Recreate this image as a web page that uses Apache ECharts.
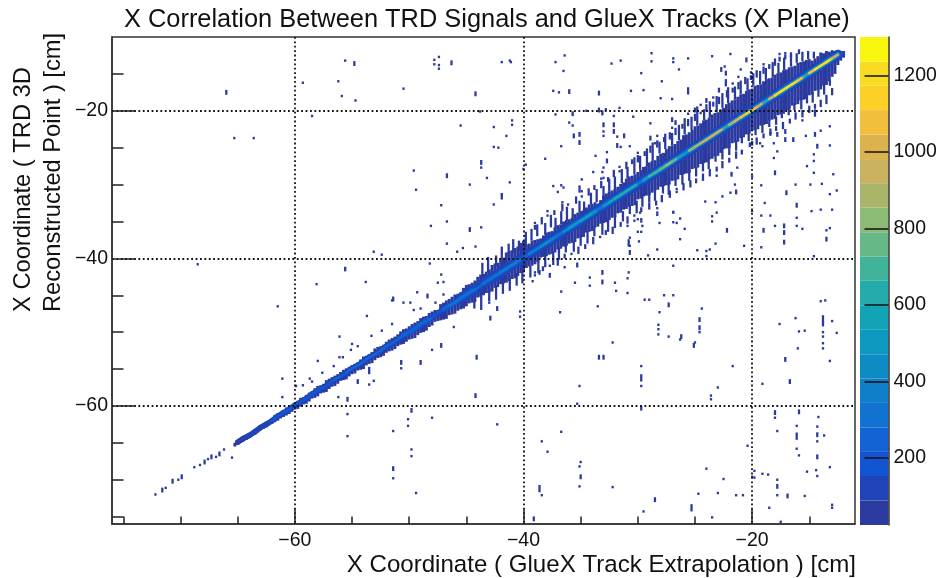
<!DOCTYPE html>
<html>
<head>
<meta charset="utf-8">
<style>html,body{margin:0;padding:0;background:#fff}#c{width:938px;height:578px}</style>
<script src="https://cdn.jsdelivr.net/npm/echarts@6/dist/echarts.min.js"></script>
</head>
<body>
<div id="c"></div>
<script>
const titleText = 'X Correlation Between TRD Signals and GlueX Tracks (X Plane)';
const xTitle = 'X Coordinate ( GlueX Track Extrapolation ) [cm]';
const yTitle = 'X Coordinate ( TRD 3D\nReconstructed Point ) [cm]';
const majorTicks = [-60, -40, -20];
const minorTicks = [-75, -70, -65, -55, -50, -45, -35, -30, -25, -15];
const paletteTicks = [200, 400, 600, 800, 1000, 1200];
const paletteLevels = [25, 89, 153, 216, 280, 344, 408, 471, 535, 599, 663, 726, 790, 854, 918, 981, 1045, 1109, 1173, 1236, 1300];
const paletteColors = ['#2b3a9e', '#1f44b8', '#1354d2', '#1263d4', '#1272cf', '#107fca', '#0d8cc4', '#0d98bf', '#12a3b6', '#24abab',
  '#41b39a', '#66b987', '#8bbb75', '#aab569', '#c9b15f', '#dcb24f', '#f2bf3d', '#fdd028', '#f9dc1f', '#f9f60e'];

// [x, y, stacked bins]
const sparseCells = [
[-72.2,-72],[-71.6,-71.4,2],[-71.3,-71.1],[-70.7,-70.2,2],[-70.2,-70],[-69.9,-69.6,2],[-68.8,-68.3],[-68.3,-68],[-67.9,-67.6,2],[-67.6,-67.2],[-67.3,-66.9,2],[-66.9,-66.9],[-66.6,-66.5,2],[-66.2,-65.9],[-65.5,-67],
[-66,-17.5,2],[-65.3,-23.7],[-63.6,-23.7],[-59.3,-16.2],[-55.6,-13.2],[-54.8,-13.6,2],[-56.2,-16],[-55.9,-18],[-54.7,-18.6],[-50.5,-17],[-58.5,-20.7],[-53.1,-39.1],[-52.4,-39.5],[-68.5,-40.8],
[-47.8,-13.1],[-47.8,-13.7],[-47.4,-12.7],[-47.4,-13.8],[-47.4,-14.3],[-46.3,-13.5,2],[-41.9,-13.4],[-41.2,-13.2],[-41.1,-13.4],[-36.4,-12.5],[-37.2,-13.4],[-36.5,-14.6],[-32.3,-13.6],[-31.5,-13.2],
[-44.2,-17.7,2],[-37.4,-17.3],[-36.9,-17.5],[-36,-17.4,2],[-33.4,-17.6,2],[-30.6,-17.3],[-43.8,-20.1],[-41,-21.3],[-41,-21.9],[-45.5,-22],[-42.6,-22.2],[-41.5,-23.4],[-42.6,-24.9],[-42.2,-25],[-43.7,-27,2],[-43.7,-27.7],[-49.6,-28.1],[-46.7,-28.8,2],[-43.2,-29.1],[-44.7,-30],[-41.2,-29.7],[-49.4,-30.7],[-41.9,-31.3],[-39.8,-27.3],[-40,-27.9],[-38.1,-26.5],
[-37.2,-20.5],[-35.7,-20.4,2],[-36,-21.6],[-35.7,-22],[-35.6,-23.4,2],[-35.1,-23.2,2],[-35.1,-24.3,2],[-36.7,-24.8],[-34.5,-20],[-33.4,-19.9,2],[-33.1,-20.3,2],[-32.8,-19.8],[-31.6,-19.6],[-32.1,-20.7],[-32.1,-21.9,2],[-32.1,-22.8,2],[-33,-21.9,2],[-33,-22.8],[-33,-23.4],[-31.8,-23.5],[-31.2,-23.4,2],[-31.8,-24.7,2],[-31.5,-24.9],[-30.7,-24.8],[-30.4,-20.8],[-33.7,-26.1],[-32.7,-25.6],[-32.7,-26.8,2],[-33.9,-28.3],[-33.1,-28.3],[-33,-27.7],[-33,-29.1],[-34.9,-29.3],[-37.4,-30.2],[-36.7,-30.1],[-36.5,-30.4],[-37,-31],[-35.1,-30.6,3],
[-28.8,-12.2],[-28.8,-13.3],[-26.9,-12.9],[-26.9,-13.4],[-25.6,-12.9],[-23.5,-12.6],[-21.9,-12.3],[-29.7,-14.9],[-26.4,-14.4],[-22.4,-14],[-22.7,-14.4,2],[-22.3,-14.9,2],[-22.3,-16.2,3],[-21,-14.4],[-20.5,-13.1,2],[-27.9,-16],[-29.5,-17.2],[-28,-18.3],[-27,-18.4],[-25.6,-17.3,3],[-28.9,-21.7],[-27,-21.2,2],[-27,-22.3],[-28.9,-23.7,2],[-28.5,-24.4],
[-20,-24.4,2],[-19.3,-24.4],[-19.1,-24.8],[-18.4,-23],[-17.8,-23.2,2],[-18.1,-24.4],[-17.1,-22.8,2],[-17.1,-23.9,2],[-16.4,-23.9,2],[-15.3,-23.4],[-14.5,-23.2,2],[-14,-22.7],[-13.2,-22.1],[-14.3,-24.8,2],[-13.2,-24.7],[-18.1,-26.4],[-17.8,-25.5],[-14.6,-25.9],[-14.6,-26.8],[-15.2,-27.5],[-14.6,-28.4],[-12.9,-28.6],[-18,-28.4,2],[-20,-28.9],[-21.8,-28.6,2],[-21.3,-27.7],[-16.2,-30],[-14.9,-30],[-13.9,-29.9],[-17,-31.1,2],[-13.2,-31.3],[-12.6,-30.8],[-19.2,-30.1],[-21.4,-31,2],[-21.9,-31.1],[-21.5,-30],[-22.6,-31.6],[-23.2,-32.4],[-24.1,-32.3],[-18.9,-32.5],[-16.1,-32.8,2],[-14.8,-33.6],[-14,-33.4],[-13,-33.4],[-20,-33.6],[-18.4,-34.2],[-19.2,-34.2],[-16.1,-34.5],[-23.1,-33.8],[-23.5,-34.3],[-23.5,-35],[-18,-35.6],[-17.2,-35.6,2],[-17.2,-36.5,2],[-22.2,-36.2,2],[-19,-36.2,2],[-15.6,-36],[-16.1,-35.6],[-13.2,-35.9],[-13.5,-36.2],[-13.5,-37.4,2],[-17.2,-37.8,2],[-23.2,-38],[-23.7,-38.8],[-30.7,-37.2],[-30.7,-38.3],[-30.7,-39.2,2],[-29.9,-37.7],[-26.3,-37.4],[-24.8,-38.9],[-24,-39],[-24,-39.7],[-28.1,-35.2],[-28.3,-33.8],[-26.9,-33.8],[-26.3,-34.6],[-26.9,-35.1],[-25.9,-36],[-29.8,-33.8],[-29.7,-35],[-29.6,-35.6],[-30.9,-35.6],[-20.7,-38.3],[-19.2,-38.5],[-14.6,-39.7],
[-29.4,-45.6],[-29,-45.6],[-27.3,-46.3,2],[-33.5,-46.5],[-36.8,-47.3],[-24.4,-46.8],[-28.1,-47.3],[-24.6,-48.3,2],[-24.6,-49.4,2],[-24.6,-50],[-28.2,-49],[-28.2,-49.6],[-28.2,-50.3],[-27.3,-50.6],[-26.2,-50.6,2],[-26.3,-51],[-25,-51.4],[-25.1,-51.8,2],[-32.2,-51.4],[-33.4,-53.4,2],[-33,-53.4,2],[-29.7,-54.6],[-29.7,-56.2,3],[-29.7,-57.3],[-35.1,-57.3],[-21.7,-54.6],[-23,-57.5],[-23.6,-58.6],[-23.6,-59.1],[-35.3,-59.7],[-29.7,-60.3,2],[-36.7,-63.5],[-35,-67.6],[-35.1,-68.2],[-35,-69.6,2],[-35.1,-70.9],[-32.2,-71],[-28.5,-72.7,2],[-29.5,-74.3],[-25.3,-73.8,3],[-23.5,-75.1],[-24,-68.5],[-22.5,-69.9],[-24.7,-71.9],[-23,-71.8],[-21.4,-72.1],[-20.8,-72.1],[-20.4,-65.4],
[-17.6,-48.9],[-16.2,-48.1],[-15.9,-49.9],[-15.4,-49.8],[-16,-52.2],[-17.1,-53.7,2],[-16.7,-56.7,2],[-19.1,-57],[-13.8,-48.2,3],[-13.8,-48.9,2],[-13.8,-50],[-13.8,-50.6],[-13.8,-51.5],[-13.8,-52.2],[-13,-48.5],[-12.6,-50.1],[-13.2,-53.9],[-14,-45.8],[-13.6,-45.7],[-18,-60.9,2],[-18,-61.6],[-15.9,-60.8,2],[-14.2,-61.5],[-17.8,-63.4],[-16.1,-62.7],[-16.1,-64.1,3],[-14.3,-62.8],[-14.3,-63.9,2],[-14.3,-64.8],[-13.7,-64],[-16.1,-65.8],[-15.9,-66.7],[-14.3,-66.9,2],[-19.8,-68.8],[-20,-69.6],[-19.8,-69.7],[-19.1,-69.2],[-18.6,-69.3],[-17.8,-70],[-17.8,-70.9,2],[-17.8,-72.1],[-16.9,-72.2,2],[-15.4,-72.2],[-15.2,-68.9],[-14.4,-68.7],[-14.3,-69.5],[-13.2,-68.3],[-13,-73.4],[-13,-73.8],[-18.5,-73.8],[-17.5,-75.7],
[-55.4,-59.1,2],[-55.4,-61.1],[-55.4,-64.1],[-49.8,-60.6,2],[-50.1,-61.8],[-50.1,-62.7],[-48,-61.6],[-51.4,-63.4],[-49.8,-65.9],[-49.8,-66.8],[-51.4,-68.5,2],[-51.4,-69.8],[-49.4,-71.8],[-42.3,-62.5],[-44.2,-58.6,2],[-44.1,-53.4,2],[-42.9,-48.1,2],[-42.3,-46.8,2],[-43,-46],[-40.3,-47.2],[-40.3,-47.9],[-47.2,-51.8,2],[-48,-52.4],[-46.1,-49.3],[-49,-54.1,2],[-50.7,-54.1,2],[-50.7,-54.9],[-53.5,-55.2,3],[-54.5,-56.7,2],[-53.5,-57.1],[-53.1,-56.6],[-55.1,-52.4],[-55,-51.6],[-54.5,-51.9],[-53.7,-47.8],[-51.5,-45.7],[-38.4,-64.8],[-37.9,-66.2],[-38.6,-71.2,3],[-38.4,-72.1],[-39.1,-75.3,2],
[-61.5,-46.5],[-58.1,-43.5],[-55.6,-41.3],[-55.6,-41.6],[-53.8,-43.2],[-48.2,-40.7],[-47.2,-42.2],[-51.4,-45.5,2],[-56.1,-50.6],[-58,-53.9],[-61.1,-56.3],[-61.1,-58.8],[-56.2,-58.8],[-49.3,-44.6],[-48.4,-45.1,2],[-50.5,-46],[-49.9,-46],[-49.6,-47],[-49,-46.8],[-47.5,-43.3],[-47,-43.2],[-47,-44.9],[-47.7,-46],[-51.5,-48.9],[-52.4,-49.8],[-53.3,-50.5],[-56.1,-53.4],[-55.8,-53.4],[-56.6,-54.6],[-57.6,-55.5],[-58.7,-56.3],[-58.5,-56.7],[-59.9,-57.3],[-59.3,-57.2],
[-41.9,-31.7,2],[-47.2,-32.8],[-42.6,-32.7],[-46.7,-35],[-44.7,-36.1,2],[-48.1,-35.6],[-43.7,-35.8],[-46.7,-38],[-44.2,-38.4],[-45.3,-38.6],[-45.8,-39.1],[-35.3,-40.9,2],[-36.4,-41.2],[-37.7,-42.3,2],[-38.6,-41.9,2],[-39.2,-43.1],[-34.2,-42.6],[-34.2,-43.7],[-33.1,-41.9,2],[-33.1,-43.2,2],[-35.5,-43.3],[-36.7,-44.5],[-32,-43.3],[-31.9,-44.4],[-30.9,-44.7],[-30.9,-42.7],[-30.8,-41.9],[-30.8,-37.9,3],[-27.7,-45],[-26.9,-45],[-26.9,-41],[-28.3,-38.8],[-29.1,-39.6],[-30,-36.4],[-29.7,-36.4],[-30,-34.7],[-29.7,-34.7],[-28.3,-33.2],[-28.3,-34.1],[-26.9,-33.7],[-26.6,-35.2]
];

// [x, y, stacked bins]: the loose cells along the edges of the dense band
const fringeCells = [
[-39,-35.8,2],[-39,-35.2],[-38.4,-34.9,3],[-37.9,-34.2],[-37.9,-33.6],[-37.3,-33.8,2],[-36.6,-33.1,3],[-36.6,-32.4],[-36.1,-32.7],[-35.4,-32.1,3],[-34.9,-31.6],[-34.9,-30.9],[-34.3,-31,3],[-33.8,-30.4,2],[-33.2,-30,3],[-33.2,-29.2],[-32.6,-29.3,2],[-32.1,-28.5,3],[-31.6,-28.2],[-31.6,-27.6],[-31,-27.4,3],[-30.5,-26.9,2],[-30,-26.5,3],[-30,-25.7],[-29.4,-25.8,2],[-28.9,-25.2,3],[-28.3,-24.5,3],[-28.3,-23.4],[-27.7,-23.9,2],[-27.2,-23.4,3],[-26.7,-22.8,3],[-26.7,-21.6,2],[-26.1,-22.1,2],[-25.6,-21.6,3],[-25.6,-20.4],[-25,-20.9,3],[-25,-19.9,2],[-24.5,-20.3],[-24.5,-19.2],[-24,-19.6,3],[-24,-18.6,2],[-23.4,-19.1,2],[-23.4,-18.2],[-22.9,-18.6,3],[-22.9,-17.2,2],[-22.2,-17.7,3],[-21.7,-17.2,2],[-21.7,-16.3],[-21.2,-16.6,3],[-21.2,-15.4],[-20.6,-15.9,3],[-20.1,-15.5,2],[-20.1,-14.8],[-19.6,-15,3],[-19,-14.5,3],[-19,-13.7],[-18.5,-14,2],[-18,-13.4,3],[-17.6,-13,2],[-17.6,-12.3],[-17.1,-12.7,2],[-17.1,-12.2],[-16.6,-12.4,2],[-15.9,-12,2],
[-39,-41.9],[-39,-42.3],[-38.3,-41.4,2],[-37.7,-41],[-37,-40.5,3],[-36.4,-39.7,2],[-35.8,-39.4],[-35.2,-38.9,3],[-34.6,-38.4,2],[-33.9,-37.6,3],[-33.3,-37.1],[-32.8,-36.5,2],[-32.2,-36.2,3],[-31.5,-35.4,2],[-30.9,-34.8,3],[-30.3,-34.2],[-30.3,-34.9],[-29.7,-33.4,2],[-29,-32.9,3],[-28.4,-32.5,2],[-27.9,-31.9,3],[-27.2,-31.3,3],[-26.6,-31],[-26.6,-30.6],[-26,-30.3,3],[-25.4,-29.9,3],[-24.9,-29.5,2],[-24.3,-29,3],[-23.7,-28.4,3],[-23.1,-27.9,2],[-23.1,-28.8],[-22.6,-27.3,3],[-22,-26.7,2],[-21.4,-26,3],[-20.9,-25.6,2],[-20.2,-24.6,2],[-19.6,-24.1,3],[-19,-23.4,2],[-18.4,-22.9,3],[-17.9,-22.4,2],[-17.3,-22,3],[-16.7,-21.4,2],[-16.2,-20.7,3],[-15.6,-20.4,3],[-15.6,-21.3],[-15,-19.8,3],[-14.5,-19.4,2],[-14.5,-20.3,3],[-14,-19,3],[-13.5,-18.6,3],[-13.5,-18],[-13,-17.4,3]
];

// [x, lowest y, highest y]: thin vertical streaks reaching out of the dense band
const streakColumns = [
[-43.6,-42.4,-40.6],[-43.1,-41.9,-39.8],[-42.4,-41,-39.6],[-41.9,-40.2,-38.4],[-41.3,-39.6,-38],[-40.9,-39.2,-37.4],[-40.4,-39,-37.6],[-39.8,-38.2,-36.4],[-39.3,-37.6,-36],[-38.8,-37,-35.4],[-38.1,-36.8,-35.2],[-37.6,-35.8,-34.1],[-37.2,-36,-34.5],[-36.7,-35.4,-33.6],[-36.2,-34.8,-33],[-35.7,-34.6,-33.2],[-35.1,-33.8,-32.2],[-34.7,-33.6,-32.3],[-34.1,-32.7,-31.1],[-33.6,-32.4,-30.6],[-33,-31.6,-30.2],[-32.5,-30.9,-29.2],[-32,-30.8,-28.9],[-31.4,-29.8,-27.9],[-30.9,-29.2,-27.6],[-30.3,-28.6,-26.3],[-29.8,-28,-26.1],[-29.2,-27.5,-25.1],[-28.7,-26.8,-24.3],[-28.1,-25.8,-24.2],[-27.6,-25.2,-23.1],[-27,-24.7,-23],[-26.4,-24,-21.9],[-25.9,-23.2,-21],[-25.3,-22.6,-20.8],[-24.8,-22,-19.4],[-24.2,-21.3,-19.8],[-23.7,-20.9,-18.7],[-23.1,-20.2,-18],[-22.6,-19.6,-17.6],[-22.1,-19,-16.8],[-21.5,-18.5,-16.7],[-21,-17.8,-15.9],[-20.4,-17.3,-15.6],[-19.9,-16.6,-14.9],[-19.3,-16.4,-14.6],[-18.8,-15.7,-14.2],[-18.2,-15.5,-13.4],[-17.7,-14.9,-13.5],[-17.2,-14.5,-12.8],[-16.6,-14,-12.4],[-16.1,-13.5,-12.2],[-15.6,-13.3,-12],[-15.1,-13,-11.9],[-14.6,-12.9,-12],
[-44.3,-46.8,-45],[-43.7,-47,-44.8],[-43,-45.8,-44],[-42.4,-45.6,-43.6],[-41.8,-44.8,-43],[-41.2,-44.4,-42.6],[-40.6,-43.7,-42],[-40.1,-43.4,-41.4],[-39.4,-42.6,-41],[-38.7,-42,-40.2],[-38.1,-41.2,-39.5],[-37.4,-40.9,-39],[-36.9,-40.2,-38.5],[-36.3,-39.2,-38],[-35.6,-39.1,-37.6],[-35,-38.3,-36.9],[-34.4,-38,-36.3],[-33.8,-37,-35.6],[-33.1,-36.8,-35],[-32.6,-36.4,-34.6],[-32,-35.9,-34.2],[-31.3,-35,-33.6],[-30.7,-34,-32.8],[-30.1,-33.9,-32.2],[-29.6,-33,-31.4],[-29,-32.4,-31],[-28.5,-32.2,-30.6],[-27.8,-31.2,-30],[-27.3,-31.4,-29.8],[-26.7,-30.2,-29],[-26.1,-30,-28.4],[-25.5,-29.5,-28],[-24.9,-28.9,-27.6],[-24.3,-28.2,-26.9],[-23.8,-27.9,-26.4],[-23.2,-26.9,-26],[-22.6,-26.6,-25],[-22,-26,-24.8],[-21.4,-25.4,-24],[-20.9,-24.4,-23.4],[-20.3,-24.1,-23],[-19.7,-23.3,-22.4],[-19.1,-23,-21.8],[-18.5,-22.2,-21.2],[-17.9,-21.9,-20.8],[-17.4,-21,-20.2],[-16.8,-20.6,-19.6],[-16.3,-19.9,-19],[-15.7,-19.8,-18.4],[-15.2,-19,-17.8],[-14.7,-18.9,-17.5],[-14.2,-18.1,-17],[-13.7,-17.8,-16.5],[-13.2,-16.6,-15.8]
];

// [x, lowest y, highest y] of the dense run in each column
const bandColumns = [
[-65.25,-65.5,-65],[-65,-65.3,-64.7],[-64.75,-65,-64.5],[-64.5,-64.8,-64.3],[-64.25,-64.6,-64],[-64,-64.3,-63.7],[-63.75,-64.1,-63.5],[-63.5,-63.9,-63.2],[-63.25,-63.6,-63],[-63,-63.3,-62.7],[-62.75,-63.1,-62.3],[-62.5,-62.9,-62.1],[-62.25,-62.6,-61.9],[-62,-62.4,-61.7],[-61.75,-62.2,-61.2],[-61.5,-62,-61],[-61.25,-61.7,-60.9],[-61,-61.5,-60.6],[-60.75,-61.3,-60.2],[-60.5,-61.1,-60],[-60.25,-60.8,-59.8],[-60,-60.5,-59.6],[-59.75,-60.4,-59.3],[-59.5,-60.1,-58.9],[-59.25,-59.8,-58.8],[-59,-59.7,-58.5],[-58.75,-59.4,-58.2],[-58.5,-59,-58],[-58.25,-58.9,-57.6],[-58,-58.7,-57.3],[-57.75,-58.3,-57.2],[-57.5,-58.2,-57],[-57.25,-58.1,-56.5],[-57,-57.7,-56.3],[-56.75,-57.4,-56.1],[-56.5,-57.3,-55.9],[-56.25,-57,-55.7],[-56,-56.6,-55.4],[-55.75,-56.5,-55.1],[-55.5,-56.4,-54.9],[-55.25,-56,-54.7],[-55,-55.7,-54.5],[-54.75,-55.6,-54.3],[-54.5,-55.2,-54.1],[-54.25,-55.1,-53.7],[-54,-55,-53.3],[-53.75,-54.5,-53.2],[-53.5,-54.3,-53],[-53.25,-54.2,-52.7],[-53,-53.8,-52.2],[-52.75,-53.5,-52],[-52.5,-53.4,-51.9],[-52.25,-53.2,-51.7],[-52,-52.8,-51.3],[-51.75,-52.6,-51],[-51.5,-52.5,-50.8],[-51.25,-52.3,-50.6],[-51,-51.9,-50.3],[-50.75,-51.7,-49.9],[-50.5,-51.6,-49.6],[-50.25,-51.3,-49.5],[-50,-51,-49.2],[-49.75,-50.9,-48.9],[-49.5,-50.8,-48.7],[-49.25,-50.4,-48.5],
[-49,-50.1,-48.1],[-48.75,-50,-47.9],[-48.5,-49.8,-47.8],[-48.25,-49.3,-47.4],[-48,-49.1,-47.2],[-47.75,-48.6,-47],[-47.5,-48.5,-47.1],[-47.25,-48.4,-46.2],[-47,-48.3,-46],[-46.75,-48.2,-45.7],[-46.5,-47.7,-45.5],[-46.25,-47.6,-45.2],[-46,-47.5,-44.9],[-45.75,-47.1,-44.8],[-45.5,-46.9,-44.6],[-45.25,-46.8,-44],[-45,-46.5,-43.6],[-44.75,-46.1,-43.5],[-44.5,-46,-43.3],[-44.25,-45.9,-43],[-44,-45.3,-42.5],[-43.75,-45.2,-42.2],[-43.5,-45,-42.1],[-43.25,-44.7,-41.8],[-43,-44.6,-41.5],[-42.75,-44.5,-40.9],[-42.5,-44,-40.7],[-42.25,-43.9,-40.6],[-42,-43.5,-40.2],[-41.75,-43.4,-39.9],[-41.5,-43.3,-39.2],[-41.25,-43.1,-39],[-41,-42.8,-38.9],[-40.75,-42.7,-38.6],[-40.5,-42.4,-38.4],[-40.25,-42,-37.9],[-40,-41.9,-37.6],[-39.75,-41.3,-38.1],[-39.5,-41.1,-38],[-39.25,-41,-37.6],[-39,-40.8,-37.5],[-38.75,-40.5,-37.4],[-38.5,-39.9,-37.3],[-38.25,-39.8,-36.9],[-38,-39.7,-36.5],[-37.75,-39.5,-36.4],[-37.5,-39.4,-36.3],[-37.25,-39.2,-35.8],[-37,-38.8,-35.5],[-36.75,-38.7,-35.4],[-36.5,-38.4,-35],[-36.25,-38.3,-34.8],[-36,-38,-34.7],[-35.75,-37.9,-34.5],[-35.5,-37.8,-34],[-35.25,-37.3,-33.8],[-35,-37.2,-33.6],[-34.75,-37.1,-33.5],[-34.5,-36.5,-33.1],[-34.25,-36.4,-32.7],[-34,-36.3,-32.6],[-33.75,-35.8,-32.4],[-33.5,-35.7,-32.6],[-33.25,-35.3,-32.1],[-33,-35.2,-31.5],[-32.75,-35.1,-31.2],[-32.5,-34.8,-30.9],[-32.25,-34.5,-30.8],[-32,-34.4,-30.6],[-31.75,-33.9,-30.3],[-31.5,-33.8,-29.9],[-31.25,-33.4,-29.7],[-31,-33.3,-29.2],[-30.75,-33,-28.9],[-30.5,-32.9,-28.8],[-30.25,-32.8,-28.6],[-30,-32,-28.3],[-29.75,-31.9,-28],[-29.5,-31.6,-27.6],[-29.25,-31.5,-27.5],[-29,-31.4,-27],[-28.75,-31.1,-26.8],[-28.5,-30.8,-26.7],[-28.25,-30.7,-26.1],[-28,-30.3,-25.8],[-27.75,-30.2,-25.7],[-27.5,-30.1,-25.2],[-27.25,-30,-24.8],[-27,-29.5,-24.7],[-26.75,-29.4,-24.5],[-26.5,-29.3,-24.1],[-26.25,-28.7,-23.9],[-26,-28.6,-23.3],[-25.75,-28.5,-23.2],[-25.5,-28.4,-22.9],[-25.25,-27.9,-22.6],[-25,-27.8,-22.1],[-24.75,-27.7,-22],[-24.5,-27.2,-21.7],[-24.25,-27.1,-21.3],[-24,-27,-21.2],[-23.75,-26.6,-20.9],[-23.5,-26.5,-20.5],[-23.25,-26.2,-20.3],[-23,-26.1,-20.2],[-22.75,-25.7,-19.8],[-22.5,-25.2,-19.6],[-22.25,-25.1,-19.1],[-22,-25,-18.9],[-21.75,-24.4,-18.6],[-21.5,-24.3,-18.5],[-21.25,-24.2,-18.1],[-21,-23.7,-17.8],[-20.75,-23.6,-17.7],[-20.5,-23.2,-17.3],[-20.25,-23.1,-17.1],[-20,-22.7,-17],[-19.75,-22.6,-16.6],[-19.5,-22.5,-16.5],[-19.25,-22,-16.4],[-19,-21.9,-16],[-18.75,-21.8,-15.7],[-18.5,-21.3,-15.6],[-18.25,-21.2,-15.5],[-18,-21.1,-15.1],[-17.75,-20.6,-14.9],[-17.5,-20.5,-14.8],[-17.25,-20.4,-14.5],[-17,-19.9,-14.4],[-16.75,-19.8,-14.1],[-16.5,-19.3,-14],[-16.25,-19.2,-13.9],[-16,-19.1,-13.5],[-15.75,-18.6,-13.4],[-15.5,-18.5,-13.3],[-15.25,-18.4,-13.1],[-15,-17.9,-13],[-14.75,-17.8,-13.2],[-14.5,-17.3,-12.9],[-14.25,-17.2,-12.6],[-14,-17.1,-12.1],[-13.75,-16.6,-12.2],[-13.5,-16.5,-11.9],[-13.25,-16,-12],[-13,-15.4,-11.8],[-12.75,-15,-11.9],[-12.5,-13.8,-11.8],[-12.25,-13.2,-11.9],[-12,-12.8,-11.9]
];

// [x, y, ridge count, shoulder count, wide band count]
const ridgePoints = [
[-65,-64.9,110,70,0],[-64.5,-64.4,120,80,0],[-64,-64,130,90,0],[-63.5,-63.5,130,90,0],[-63,-62.9,140,95,0],[-62.5,-62.5,150,100,0],[-62,-62,160,100,0],[-61.5,-61.4,170,110,0],[-61,-60.9,170,110,0],[-60.5,-60.5,180,115,0],[-60,-59.9,180,120,0],[-59.5,-59.5,190,120,0],[-59,-59,200,125,0],[-58.5,-58.4,190,120,0],[-58,-57.9,200,125,0],[-57.5,-57.5,210,130,0],[-57,-57,210,130,0],[-56.5,-56.4,220,135,0],[-56,-56,210,130,0],[-55.5,-55.5,220,135,0],[-55,-54.9,225,140,0],[-54.5,-54.5,230,140,0],[-54,-54,225,140,0],[-53.5,-53.4,235,145,0],[-53,-53,240,145,0],[-52.5,-52.5,230,140,0],[-52,-51.9,240,145,0],[-51.5,-51.5,250,150,0],[-51,-51,245,150,0],[-50.5,-50.4,255,155,0],[-50,-50,260,155,0],[-49.5,-49.5,265,160,0],[-49,-48.9,270,160,0],[-48.5,-48.5,270,165,0],[-48,-48,210,140,0],[-47.5,-47.4,180,120,0],[-47,-46.9,260,160,0],[-46.5,-46.4,280,165,0],[-46,-46,290,170,0],[-45.5,-45.4,300,170,95],[-45,-44.9,310,175,95],[-44.5,-44.4,300,170,95],[-44,-44,240,150,95],[-43.5,-43.4,310,175,100],[-43,-42.9,330,180,100],[-42.5,-42.4,340,185,100],[-42,-41.9,350,190,100],[-41.5,-41.4,360,195,100],[-41,-40.9,370,195,100],[-40.5,-40.4,300,170,100],[-40,-39.9,220,140,100],[-39.5,-39.4,350,190,100],[-39,-38.9,400,205,100],[-38.5,-38.4,430,210,100],[-38,-37.9,440,215,100],[-37.5,-37.4,350,190,100],[-37,-36.9,300,170,100],[-36.5,-36.4,450,215,100],[-36,-35.9,490,225,105],[-35.5,-35.4,520,235,105],[-35,-34.9,540,240,105],[-34.5,-34.4,550,245,105],[-34,-33.9,520,235,105],[-33.5,-33.4,340,185,105],[-33,-32.9,480,225,105],[-32.5,-32.4,560,245,105],[-32,-31.9,600,255,105],[-31.5,-31.4,630,265,105],[-31,-30.9,650,270,105],[-30.5,-30.4,620,260,105],[-30,-29.9,400,205,105],[-29.5,-29.4,560,245,105],[-29,-28.9,680,275,110],[-28.5,-28.4,720,285,110],[-28,-27.9,760,290,110],[-27.5,-27.4,800,300,110],[-27,-26.9,780,295,110],[-26.5,-26.4,560,245,110],[-26,-25.9,480,225,110],[-25.5,-25.4,800,300,110],[-25,-24.9,880,310,110],[-24.5,-24.4,930,320,110],[-24,-23.9,960,325,110],[-23.5,-23.4,980,330,110],[-23,-22.9,920,320,110],[-22.5,-22.4,600,255,110],[-22,-21.9,900,315,110],[-21.5,-21.4,1040,340,110],[-21,-20.9,1080,345,110],[-20.5,-20.4,1110,350,110],[-20,-19.9,1060,340,110],[-19.5,-19.4,960,325,110],[-19,-18.9,620,260,110],[-18.5,-18.4,1020,335,110],[-18,-17.9,1140,355,110],[-17.5,-17.4,1180,360,110],[-17,-16.9,1190,360,110],[-16.5,-16.4,1200,360,110],[-16,-15.9,1100,350,110],[-15.5,-15.4,640,265,110],[-15,-14.9,1100,350,110],[-14.5,-14.4,1200,360,110],[-14,-13.9,1220,365,110],[-13.5,-13.4,1180,360,105],[-13,-12.9,980,330,100],[-12.5,-12.4,500,230,90]
];

const sparseCount = 30, bandCount = 40;
const binW = 0.2, binH = 0.33, colW = 0.26, streakW = 0.2;

function colorFor(c) {
  for (let i = 0; i < paletteColors.length; i++) if (c < paletteLevels[i + 1]) return paletteColors[i];
  return paletteColors[paletteColors.length - 1];
}
function cellItem(params, api) {
  const x = api.value(0), y = api.value(1), n = api.value(2) || 1;
  const a = api.coord([x - binW / 2, y + binH * n / 2]);
  const b = api.coord([x + binW / 2, y - binH * n / 2]);
  return { type: 'rect', shape: { x: a[0], y: a[1], width: b[0] - a[0], height: b[1] - a[1] }, style: { fill: colorFor(sparseCount) } };
}
function columnItem(w) {
  return function (params, api) {
    const x = api.value(0), lo = api.value(1), hi = api.value(2);
    const a = api.coord([x - w / 2, hi]);
    const b = api.coord([x + w / 2, lo]);
    return { type: 'rect', shape: { x: a[0], y: a[1], width: b[0] - a[0], height: b[1] - a[1] }, style: { fill: colorFor(bandCount) } };
  };
}
function ridgeItem(field, width) {
  return function (params, api) {
    const p = ridgePoints[params.dataIndex], q = ridgePoints[params.dataIndex + 1];
    if (!q || !p[field]) return null;
    const a = api.coord([p[0], p[1]]), b = api.coord([q[0], q[1]]);
    return { type: 'line', shape: { x1: a[0], y1: a[1], x2: b[0], y2: b[1] }, style: { stroke: colorFor(p[field]), lineWidth: width, lineCap: 'round' } };
  };
}
const font = 'Liberation Sans';
const minus = v => String(v).replace('-', '\u2212');
const paletteRows = paletteColors.map((c, i) => [0, paletteLevels[i], paletteLevels[i + 1]]);
const dotted = { color: '#111', type: [1.8, 2.6], width: 1.8 };

const chart = echarts.init(document.getElementById('c'), null, { renderer: 'canvas' });
chart.setOption({
  animation: false,
  backgroundColor: '#fff',
  title: { text: titleText, left: 119, top: 2, textStyle: { fontFamily: font, fontWeight: 'normal', fontSize: 25.4, color: '#111' } },
  graphic: [{ type: 'text', x: 38, y: 312, rotation: Math.PI / 2,
    style: { text: yTitle, fontFamily: font, fontSize: 23.7, fill: '#111', align: 'left', verticalAlign: 'middle', lineHeight: 30 } }],
  grid: [
    { left: 112, right: 83, top: 37, bottom: 54, show: true, borderColor: '#333', borderWidth: 1.5, backgroundColor: '#fff', outerBoundsMode: 'none' },
    { left: 860, width: 28.5, top: 37, bottom: 53, outerBoundsMode: 'none' }
  ],
  xAxis: [
    { type: 'value', gridIndex: 0, position: 'bottom', min: -76, max: -11, z: 4,
      axisLine: { show: true, lineStyle: { color: '#333', width: 1.5 } },
      axisTick: { show: true, inside: true, length: 15, customValues: majorTicks, lineStyle: { color: '#222', width: 1.5 } },
      axisLabel: { customValues: majorTicks, formatter: minus, margin: 7, fontFamily: font, fontSize: 19.5, color: '#111' },
      splitLine: { show: true, lineStyle: dotted },
      name: xTitle, nameLocation: 'end', nameGap: 1,
      nameTextStyle: { fontFamily: font, fontSize: 24.1, color: '#111', align: 'right', verticalAlign: 'top', padding: [29, 0, 0, 0] } },
    { type: 'value', gridIndex: 0, position: 'bottom', min: -76, max: -11, z: 4,
      axisLine: { show: false }, axisLabel: { show: false }, splitLine: { show: false },
      axisTick: { show: true, inside: true, length: 7.5, customValues: minorTicks, lineStyle: { color: '#222', width: 1.5 } } },
    { type: 'value', gridIndex: 1, min: 0, max: 1, show: false }
  ],
  yAxis: [
    { type: 'value', gridIndex: 0, position: 'left', min: -76, max: -10, z: 4,
      axisLine: { show: true, lineStyle: { color: '#333', width: 1.5 } },
      axisTick: { show: true, inside: true, length: 24, customValues: majorTicks, lineStyle: { color: '#222', width: 1.5 } },
      axisLabel: { customValues: majorTicks, formatter: minus, margin: 4, fontFamily: font, fontSize: 19.5, color: '#111' },
      splitLine: { show: true, lineStyle: dotted } },
    { type: 'value', gridIndex: 0, position: 'left', min: -76, max: -10, z: 4,
      axisLine: { show: false }, axisLabel: { show: false }, splitLine: { show: false },
      axisTick: { show: true, inside: true, length: 11.5, customValues: minorTicks, lineStyle: { color: '#222', width: 1.5 } } },
    { type: 'value', gridIndex: 1, position: 'right', min: 25, max: 1300, z: 4,
      axisLine: { show: true, onZero: false, lineStyle: { color: '#333', width: 1.5 } },
      axisTick: { show: true, inside: true, length: 24, customValues: paletteTicks, lineStyle: { color: '#111', width: 1.5 } },
      axisLabel: { customValues: paletteTicks, formatter: v => String(v), margin: 5, fontFamily: font, fontSize: 19.5, color: '#111' },
      splitLine: { show: false } }
  ],
  series: [
    { type: 'custom', xAxisIndex: 0, yAxisIndex: 0, clip: true, silent: true, z: 2, data: sparseCells.map(r => [r[0], r[1], r[2] || 1]), encode: { x: 0, y: 1 }, renderItem: cellItem },
    { type: 'custom', xAxisIndex: 0, yAxisIndex: 0, clip: true, silent: true, z: 2, data: fringeCells.map(r => [r[0], r[1], r[2] || 1]), encode: { x: 0, y: 1 }, renderItem: cellItem },
    { type: 'custom', xAxisIndex: 0, yAxisIndex: 0, clip: true, silent: true, z: 2, data: streakColumns, encode: { x: 0, y: [1, 2] }, renderItem: columnItem(streakW) },
    { type: 'custom', xAxisIndex: 0, yAxisIndex: 0, clip: true, silent: true, z: 2, data: bandColumns, encode: { x: 0, y: [1, 2] }, renderItem: columnItem(colW) },
    { type: 'custom', xAxisIndex: 0, yAxisIndex: 0, clip: true, silent: true, z: 2, data: ridgePoints, encode: { x: 0, y: 1 }, renderItem: ridgeItem(4, 10) },
    { type: 'custom', xAxisIndex: 0, yAxisIndex: 0, clip: true, silent: true, z: 2, data: ridgePoints, encode: { x: 0, y: 1 }, renderItem: ridgeItem(3, 5.5) },
    { type: 'custom', xAxisIndex: 0, yAxisIndex: 0, clip: true, silent: true, z: 2, data: ridgePoints, encode: { x: 0, y: 1 }, renderItem: ridgeItem(2, 2.6) },
    { type: 'custom', xAxisIndex: 2, yAxisIndex: 2, clip: false, silent: true, z: 2, data: paletteRows, encode: { x: 0, y: [1, 2] },
      renderItem: function (params, api) {
        const a = api.coord([0, api.value(2)]), b = api.coord([1, api.value(1)]);
        return { type: 'rect', shape: { x: a[0], y: a[1], width: b[0] - a[0], height: b[1] - a[1] }, style: { fill: paletteColors[params.dataIndex] } };
      } }
  ]
});
</script>
</body>
</html>
